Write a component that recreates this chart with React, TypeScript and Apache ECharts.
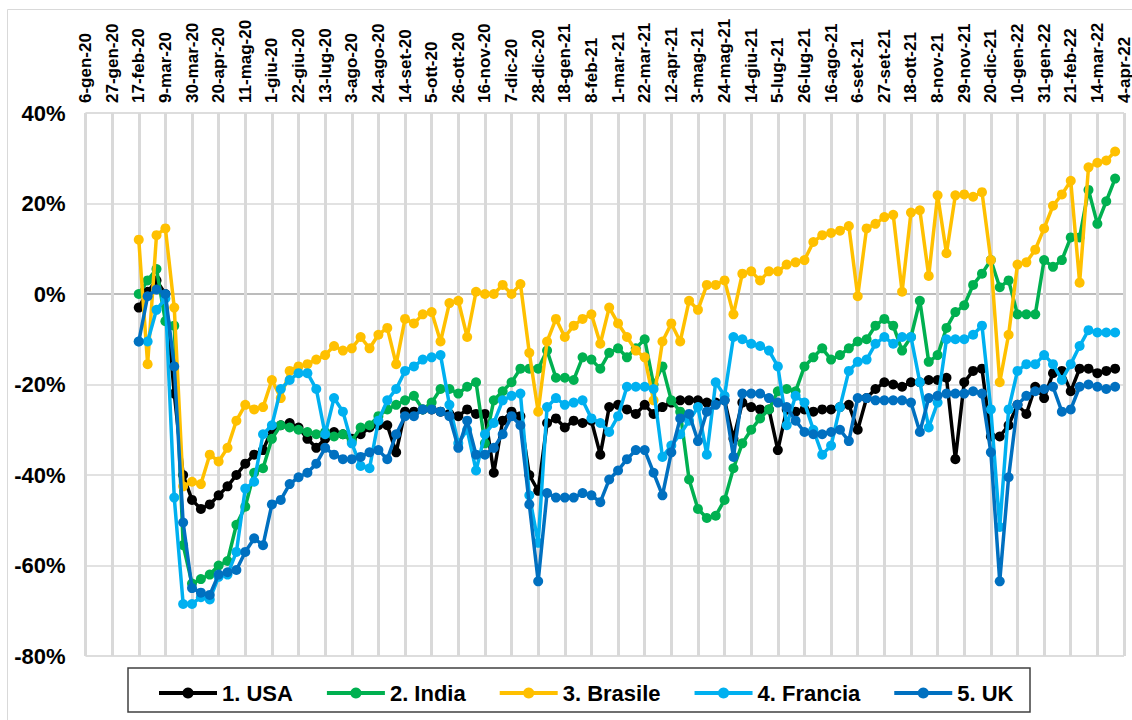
import React, { useEffect, useRef } from "react";
import * as echarts from "echarts";

// Italian month abbreviations used in the weekly date categories
const MONTHS_IT = ["gen", "feb", "mar", "apr", "mag", "giu", "lug", "ago", "set", "ott", "nov", "dic"];
const N_WEEKS = 118; // 6-gen-20 ... 4-apr-22, weekly
const FIRST_DATA_WEEK = 6; // 17-feb-20

const SERIES_NAMES = ["1. USA", "2. India", "3. Brasile", "4. Francia", "5. UK"];
const SERIES_COLORS = ["#000000", "#00B050", "#FFC000", "#00B0F0", "#0070C0"];

// % change, weekly from 17-feb-20 to 28-mar-22
const USA = [
  -3, 0.5, 3, 0, -22, -40, -45.5, -47.5, -46.5, -44.5,
  -42.5, -40, -37.5, -35.5, -34.5, -30, -29, -28.5, -29.5, -32,
  -34, -32, -30.5, -31, -32, -31, -29.5, -29, -29, -35,
  -26, -26, -25.5, -25.5, -26, -26.5, -27, -25.5, -26.5, -26.5,
  -39.5, -28, -26, -27, -40, -43.5, -28.5, -27.5, -29.5, -28,
  -28.5, -28, -35.5, -25, -24.5, -25.5, -26.5, -24.5, -26.5, -25,
  -24, -23.5, -23.5, -23.5, -24, -24, -23.5, -32, -24, -25,
  -25.5, -25.5, -34.5, -25.5, -26, -25.5, -26, -25.5, -25.5, -25,
  -24.5, -30, -23, -21, -19.5, -20, -20.5, -19.5, -19.5, -19,
  -19, -18.5, -36.5, -19.5, -17, -16.5, -31.5, -31.5, -29, -24.5,
  -26.5, -20.5, -23, -17.5, -17, -21.5, -16.5, -16.5, -17.5, -17, -16.5,
];
const INDIA = [
  0, 3, 5.5, -6, -7, -55.5, -64, -63, -62, -60,
  -59, -51, -47, -39.5, -38.5, -32, -29, -29.5, -30, -30.5,
  -31, -30.5, -31.5, -31, -32.5, -29.5, -29, -27, -25.5, -24.5,
  -23.5, -22.5, -25.5, -24, -21, -21, -22, -20.5, -19.5, -33,
  -23.5, -21.5, -19.5, -16.5, -16.5, -16.5, -12.5, -18.5, -18.5, -19,
  -14, -14.5, -16.5, -13, -12, -14, -12, -10, -20, -16,
  -23.5, -26, -41, -47.5, -49.5, -49, -45.5, -38.5, -33, -30,
  -27.5, -25.5, -21.5, -21, -21.5, -16, -14, -12, -14.5, -13.5,
  -12, -10.5, -10, -7, -5.5, -7, -12.5, -9.5, -1.5, -15,
  -13.5, -7.5, -4, -2.5, 2, 4.5, 7.5, 1.5, 3, -4.5,
  -4.5, -4.5, 7.5, 6, 7.5, 12.5, 12.5, 23, 15.5, 20.5, 25.5,
];
const BRASILE = [
  12, -15.5, 13, 14.5, -3, -42.5, -41.5, -42, -35.5, -37,
  -34, -28, -24.5, -25.5, -25, -19, -23, -17, -16, -15.5,
  -14.5, -13.5, -11.5, -12.5, -12, -9.5, -12, -9, -7.5, -15.5,
  -5.5, -6.5, -4.5, -4, -10.5, -2, -1.5, -9.5, 0.5, 0,
  0, 2, 0, 2.2, -13, -26, -10.5, -5.5, -9.5, -7,
  -5.5, -4.5, -11, -3, -6.5, -9.5, -12.5, -14, -23.5, -10.5,
  -6.5, -10.5, -1.5, -3.5, 2, 2, 3, -4.5, 4.5, 5,
  3, 5, 5, 6.5, 7, 7.5, 11.5, 13, 13.5, 14,
  15, -0.5, 14.5, 15.5, 17, 17.5, 0.5, 18, 18.5, 4,
  21.8, 9, 21.8, 22, 21.5, 22.5, 7.5, -19.5, -9, 6.5,
  7, 9.8, 14.5, 19.5, 22, 25, 2.5, 28, 29, 29.5, 31.5,
];
const FRANCIA = [
  -10.5, -10.5, -3.5, -1, -45, -68.5, -68.5, -67, -67.5, -62.5,
  -62, -57, -43, -41.5, -31, -29, -21, -19, -17.5, -17.5,
  -21, -31, -23, -26, -33, -38, -38.5, -28, -23.5, -21,
  -17, -16, -14.5, -14, -13.5, -24.5, -33, -30, -39, -31,
  -28.5, -23.5, -22.5, -22, -44.5, -55, -25, -23, -24.5, -24,
  -23.5, -27.5, -28.5, -30.5, -27, -20.5, -20.5, -20.5, -21, -36,
  -33.5, -31, -28, -25, -35.5, -19.5, -22.5, -9.5, -10, -11,
  -11.5, -12.5, -16, -29, -22.5, -24, -30, -35.5, -33.5, -25,
  -17, -15, -14.5, -11, -9.5, -11, -9.5, -9.5, -19.5, -29.5,
  -24, -10, -10, -10, -9, -7, -25.5, -51.5, -25.5, -17,
  -15.5, -15.5, -13.5, -15.5, -19, -15.5, -11.5, -8, -8.5, -8.5, -8.5,
];
const UK = [
  -10.5, -0.5, 1, 0, -16, -50.5, -65, -66, -66.5, -62,
  -61.5, -61, -57, -54, -55.5, -46.5, -45.5, -42, -40.5, -39.5,
  -37.5, -34, -35.5, -36.5, -36.5, -36, -35, -34.5, -36.5, -31,
  -27, -27, -25.5, -25.5, -26, -27, -34, -28, -35.5, -35.5,
  -34, -31, -27, -29, -46.5, -63.5, -44, -45, -45, -45,
  -44, -44.5, -46, -41, -39, -36.5, -34.5, -34.5, -39.5, -44.5,
  -35, -27.5, -26.5, -32.5, -26, -24.5, -23.5, -36, -22, -22,
  -22, -23, -24, -25, -28, -30.5, -31, -31, -30.5, -30,
  -32.5, -23, -23, -23.5, -23.5, -23.5, -23.5, -24, -30.5, -23,
  -22.5, -22, -22, -22, -21.5, -22, -35, -63.5, -40.5, -24.5,
  -22.5, -21.5, -21, -20.5, -26, -25.5, -20.5, -20, -20.5, -21, -20.5,
];
const SERIES_VALUES = [USA, INDIA, BRASILE, FRANCIA, UK];

const Y_MIN = -80;
const Y_MAX = 40;
const Y_STEP = 20;

const FONT = "'Liberation Sans', Arial, Helvetica, sans-serif";

function weekLabel(i: number): string {
  const d = new Date(Date.UTC(2020, 0, 6 + 7 * i));
  const yy = String(d.getUTCFullYear()).slice(2);
  return `${d.getUTCDate()}-${MONTHS_IT[d.getUTCMonth()]}-${yy}`;
}

const CATEGORIES = Array.from({ length: N_WEEKS }, (_, i) => weekLabel(i));

function padSeries(vals: number[]): (number | null)[] {
  const out: (number | null)[] = [];
  for (let i = 0; i < N_WEEKS; i++) {
    const k = i - FIRST_DATA_WEEK;
    out.push(k >= 0 && k < vals.length ? vals[k] : null);
  }
  return out;
}

export default function App() {
  const ref = useRef<HTMLDivElement>(null);

  useEffect(() => {
    if (!ref.current) return;
    const chart = echarts.init(ref.current, undefined, { renderer: "svg" });

    const splitColors: string[] = [];
    for (let v = Y_MIN; v <= Y_MAX; v += Y_STEP) splitColors.push(v === 0 ? "#a6a6a6" : "#d9d9d9");

    chart.setOption({
      animation: false,
      backgroundColor: "#ffffff",
      grid: {
        left: 85.5,
        right: 8,
        top: 113,
        bottom: 64,
        show: true,
        borderColor: "#d9d9d9",
        borderWidth: 1,
        outerBoundsMode: "none",
        containLabel: false,
      },
      xAxis: {
        type: "category",
        position: "top",
        data: CATEGORIES,
        boundaryGap: false,
        axisLine: { show: false },
        axisTick: { show: false },
        axisLabel: {
          interval: 2,
          rotate: 90,
          margin: 10,
          fontSize: 17,
          lineHeight: 13,
          fontWeight: "bold",
          fontFamily: FONT,
          color: "#000",
          hideOverlap: false,
          showMinLabel: true,
          showMaxLabel: true,
        },
        splitLine: {
          show: true,
          interval: 2,
          lineStyle: { color: "#d9d9d9", width: 3 },
        },
      },
      yAxis: {
        type: "value",
        min: Y_MIN,
        max: Y_MAX,
        interval: Y_STEP,
        axisLine: { show: false },
        axisTick: { show: false },
        axisLabel: {
          formatter: "{value}%",
          margin: 20,
          fontSize: 22,
          fontWeight: "bold",
          fontFamily: FONT,
          color: "#000",
        },
        splitLine: {
          show: true,
          lineStyle: { color: splitColors, width: 1.5 },
        },
      },
      legend: {
        data: SERIES_NAMES,
        left: 152,
        top: 677,
        itemWidth: 58,
        itemHeight: 14,
        itemGap: 32,
        lineStyle: { width: 4 },
        textStyle: { fontSize: 22, fontWeight: "bold", fontFamily: FONT, color: "#000" },
      },
      graphic: [
        {
          type: "rect",
          shape: { x: 7.5, y: 9.5, width: 1140, height: 730 },
          style: { fill: "none", stroke: "#d9d9d9", lineWidth: 1 },
          silent: true,
        },
        {
          type: "rect",
          shape: { x: 128, y: 668, width: 902, height: 44 },
          style: { fill: "none", stroke: "#404040", lineWidth: 1.5 },
          silent: true,
        },
      ],
      series: SERIES_NAMES.map((name, k) => ({
        name,
        type: "line",
        data: padSeries(SERIES_VALUES[k]),
        symbol: "circle",
        symbolSize: 10,
        showAllSymbol: true,
        lineStyle: { width: 3.5, color: SERIES_COLORS[k] },
        itemStyle: { color: SERIES_COLORS[k] },
        color: SERIES_COLORS[k],
        z: 2 + k,
      })),
    });

    return () => chart.dispose();
  }, []);

  return (
    <div
      style={{ position: "fixed", left: 0, top: 0, width: 1132, height: 720, background: "#fff" }}
    >
      <div ref={ref} style={{ width: 1132, height: 720 }} />
    </div>
  );
}
